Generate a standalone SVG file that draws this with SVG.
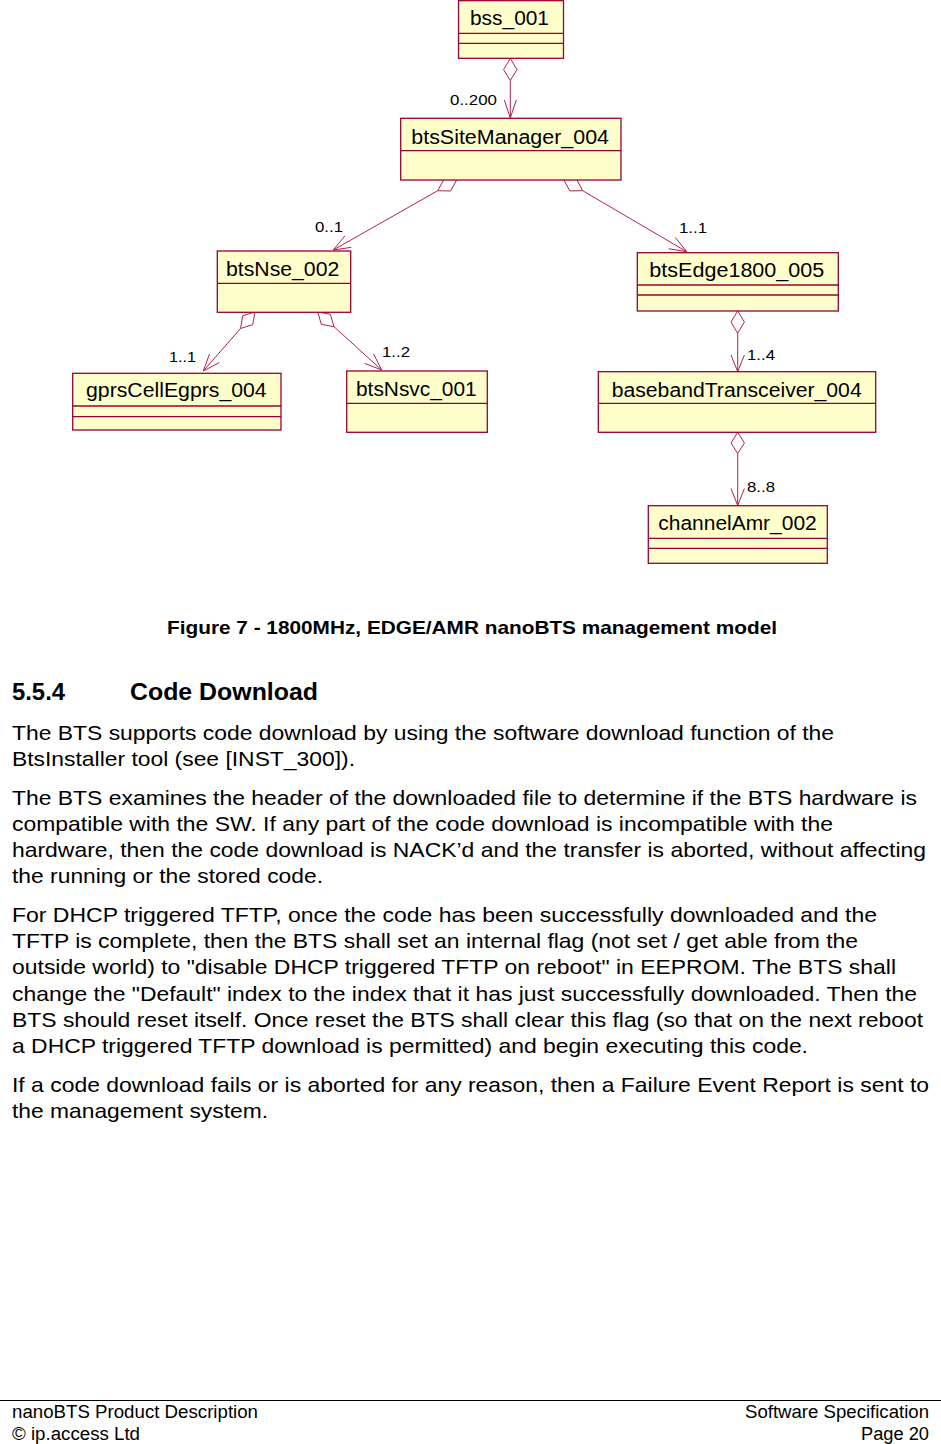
<svg xmlns="http://www.w3.org/2000/svg" width="941" height="1444" viewBox="0 0 941 1444">
<style>
.box{fill:#FFFFCC;stroke:#990033;stroke-width:1.3}
.div{stroke:#990033;stroke-width:1.3;fill:none}
.nl{font-family:"Liberation Sans",Arial,sans-serif;font-size:20px;fill:#000}
.ml{font-family:"Liberation Sans",Arial,sans-serif;font-size:15.5px;fill:#000}
.con line,.con polyline{stroke:#B0204F;stroke-width:1;fill:none}
.con polygon{stroke:#B0204F;stroke-width:1;fill:#fff}
.body{font-family:"Liberation Sans",Arial,sans-serif;font-size:21px;fill:#000}
.cap{font-family:"Liberation Sans",Arial,sans-serif;font-size:18.5px;font-weight:bold;fill:#000}
.hd{font-family:"Liberation Sans",Arial,sans-serif;font-size:23px;font-weight:bold;fill:#000}
.ft{font-family:"Liberation Sans",Arial,sans-serif;font-size:18px;fill:#000}
</style>
<rect width="941" height="1444" fill="#fff"/>
<g id="connectors" class="con">
  <!-- bss -> btsSiteManager -->
  <polygon points="510.3,58.5 517,69.5 510.3,80.5 503.6,69.5"/>
  <line x1="510.3" y1="80.5" x2="510.3" y2="118"/>
  <polyline points="504.3,100 510.3,118 516.3,100"/>
  <!-- btsSiteManager -> btsNse -->
  <polygon points="437.7,190.7 450.6,191 456.8,179.8 444,179.4"/>
  <line x1="437.7" y1="190.7" x2="333.3" y2="250"/>
  <polyline points="351.3,247.3 333.3,250 344.9,235.9"/>
  <!-- btsSiteManager -> btsEdge -->
  <polygon points="582.7,190.7 569.8,190.9 563.7,179.6 576.6,179.3"/>
  <line x1="582.7" y1="190.7" x2="686.7" y2="251.7"/>
  <polyline points="675.3,237.5 686.7,251.7 668.7,248.7"/>
  <!-- btsNse -> gprsCellEgprs -->
  <polygon points="240.5,328.5 252.7,324.6 255,312 242.7,315.8"/>
  <line x1="240.5" y1="328.5" x2="203.3" y2="371"/>
  <polyline points="219.4,362.5 203.3,371 209.6,353.9"/>
  <!-- btsNse -> btsNsvc -->
  <polygon points="334,326.7 330.3,314.3 317.7,311.9 321.3,324.3"/>
  <line x1="334" y1="326.7" x2="381.7" y2="370"/>
  <polyline points="373.5,353.8 381.7,370 364.7,363.4"/>
  <!-- btsEdge -> basebandTransceiver -->
  <polygon points="737.7,311 744.4,322 737.7,333.3 731,322"/>
  <line x1="737.7" y1="333.3" x2="737.7" y2="371.7"/>
  <polyline points="731,355 737.7,371.7 744.4,355"/>
  <!-- basebandTransceiver -> channelAmr -->
  <polygon points="737.7,432.3 744.4,443 737.7,453.5 731,443"/>
  <line x1="737.7" y1="453.5" x2="737.7" y2="505.5"/>
  <polyline points="731,488.5 737.7,505.5 744.4,488.5"/>
  <text class="ml" x="450" y="104.5" textLength="47" lengthAdjust="spacingAndGlyphs">0..200</text>
  <text class="ml" x="315" y="231.5" textLength="28" lengthAdjust="spacingAndGlyphs">0..1</text>
  <text class="ml" x="679" y="233" textLength="28" lengthAdjust="spacingAndGlyphs">1..1</text>
  <text class="ml" x="169" y="361.5" textLength="27" lengthAdjust="spacingAndGlyphs">1..1</text>
  <text class="ml" x="382" y="356.5" textLength="28" lengthAdjust="spacingAndGlyphs">1..2</text>
  <text class="ml" x="747" y="359.5" textLength="28" lengthAdjust="spacingAndGlyphs">1..4</text>
  <text class="ml" x="747" y="492" textLength="28" lengthAdjust="spacingAndGlyphs">8..8</text>
</g>
<g id="bss_001">
  <rect class="box" x="458.5" y="0.7" width="105" height="57.6"/>
  <line class="div" x1="458.5" y1="33.3" x2="563.5" y2="33.3"/>
  <line class="div" x1="458.5" y1="43.3" x2="563.5" y2="43.3"/>
  <text class="nl" x="470" y="25" textLength="79" lengthAdjust="spacingAndGlyphs">bss_001</text>
</g>
<g id="btsSiteManager_004">
  <rect class="box" x="400.7" y="118.3" width="220.3" height="61.7"/>
  <line class="div" x1="400.7" y1="150.7" x2="621" y2="150.7"/>
  <text class="nl" x="411.3" y="144" textLength="197.7" lengthAdjust="spacingAndGlyphs">btsSiteManager_004</text>
</g>
<g id="btsNse_002">
  <rect class="box" x="217.3" y="251" width="133.4" height="61.3"/>
  <line class="div" x1="217.3" y1="283.3" x2="350.7" y2="283.3"/>
  <text class="nl" x="226" y="276" textLength="113.3" lengthAdjust="spacingAndGlyphs">btsNse_002</text>
</g>
<g id="btsEdge1800_005">
  <rect class="box" x="637.3" y="252.7" width="201" height="58.3"/>
  <line class="div" x1="637.3" y1="285" x2="838.3" y2="285"/>
  <line class="div" x1="637.3" y1="295" x2="838.3" y2="295"/>
  <text class="nl" x="649.3" y="277.3" textLength="175" lengthAdjust="spacingAndGlyphs">btsEdge1800_005</text>
</g>
<g id="gprsCellEgprs_004">
  <rect class="box" x="72.7" y="373.3" width="208.3" height="56.7"/>
  <line class="div" x1="72.7" y1="406" x2="281" y2="406"/>
  <line class="div" x1="72.7" y1="416.7" x2="281" y2="416.7"/>
  <text class="nl" x="86" y="396.7" textLength="180.7" lengthAdjust="spacingAndGlyphs">gprsCellEgprs_004</text>
</g>
<g id="btsNsvc_001">
  <rect class="box" x="346.7" y="371" width="140.6" height="61.3"/>
  <line class="div" x1="346.7" y1="403.3" x2="487.3" y2="403.3"/>
  <text class="nl" x="356" y="396" textLength="120.7" lengthAdjust="spacingAndGlyphs">btsNsvc_001</text>
</g>
<g id="basebandTransceiver_004">
  <rect class="box" x="598.3" y="371.7" width="277.4" height="60.6"/>
  <line class="div" x1="598.3" y1="403.3" x2="875.7" y2="403.3"/>
  <text class="nl" x="611.7" y="396.7" textLength="250" lengthAdjust="spacingAndGlyphs">basebandTransceiver_004</text>
</g>
<g id="channelAmr_002">
  <rect class="box" x="648.3" y="505.7" width="179" height="57.6"/>
  <line class="div" x1="648.3" y1="538.3" x2="827.3" y2="538.3"/>
  <line class="div" x1="648.3" y1="548.3" x2="827.3" y2="548.3"/>
  <text class="nl" x="658.3" y="530" textLength="158.4" lengthAdjust="spacingAndGlyphs">channelAmr_002</text>
</g>
<g id="text">
  <text class="cap" x="167" y="633.5" textLength="610" lengthAdjust="spacingAndGlyphs">Figure 7 - 1800MHz, EDGE/AMR nanoBTS management model</text>
  <text class="hd" x="12" y="700" textLength="53" lengthAdjust="spacingAndGlyphs">5.5.4</text>
  <text class="hd" x="130" y="700" textLength="188" lengthAdjust="spacingAndGlyphs">Code Download</text>
  <text class="body" x="12" y="739.5" textLength="822" lengthAdjust="spacingAndGlyphs">The BTS supports code download by using the software download function of the</text>
  <text class="body" x="12" y="765.5" textLength="343" lengthAdjust="spacingAndGlyphs">BtsInstaller tool (see [INST_300]).</text>
  <text class="body" x="12" y="804.5" textLength="905" lengthAdjust="spacingAndGlyphs">The BTS examines the header of the downloaded file to determine if the BTS hardware is</text>
  <text class="body" x="12" y="830.5" textLength="821" lengthAdjust="spacingAndGlyphs">compatible with the SW. If any part of the code download is incompatible with the</text>
  <text class="body" x="12" y="856.5" textLength="914" lengthAdjust="spacingAndGlyphs">hardware, then the code download is NACK’d and the transfer is aborted, without affecting</text>
  <text class="body" x="12" y="883" textLength="311" lengthAdjust="spacingAndGlyphs">the running or the stored code.</text>
  <text class="body" x="12" y="922" textLength="865" lengthAdjust="spacingAndGlyphs">For DHCP triggered TFTP, once the code has been successfully downloaded and the</text>
  <text class="body" x="12" y="948" textLength="846" lengthAdjust="spacingAndGlyphs">TFTP is complete, then the BTS shall set an internal flag (not set / get able from the</text>
  <text class="body" x="12" y="974" textLength="884" lengthAdjust="spacingAndGlyphs">outside world) to "disable DHCP triggered TFTP on reboot" in EEPROM. The BTS shall</text>
  <text class="body" x="12" y="1000.5" textLength="905" lengthAdjust="spacingAndGlyphs">change the "Default" index to the index that it has just successfully downloaded. Then the</text>
  <text class="body" x="12" y="1026.5" textLength="911" lengthAdjust="spacingAndGlyphs">BTS should reset itself. Once reset the BTS shall clear this flag (so that on the next reboot</text>
  <text class="body" x="12" y="1052.5" textLength="796" lengthAdjust="spacingAndGlyphs">a DHCP triggered TFTP download is permitted) and begin executing this code.</text>
  <text class="body" x="12" y="1092" textLength="917" lengthAdjust="spacingAndGlyphs">If a code download fails or is aborted for any reason, then a Failure Event Report is sent to</text>
  <text class="body" x="12" y="1118" textLength="256" lengthAdjust="spacingAndGlyphs">the management system.</text>
</g>
<g id="footer">
  <line x1="0" y1="1400.5" x2="941" y2="1400.5" stroke="#000" stroke-width="1"/>
  <text class="ft" x="12" y="1418" textLength="246" lengthAdjust="spacingAndGlyphs">nanoBTS Product Description</text>
  <text class="ft" x="12" y="1440" textLength="128" lengthAdjust="spacingAndGlyphs">© ip.access Ltd</text>
  <text class="ft" x="745" y="1418" textLength="184" lengthAdjust="spacingAndGlyphs">Software Specification</text>
  <text class="ft" x="861" y="1440" textLength="68" lengthAdjust="spacingAndGlyphs">Page 20</text>
</g>
</svg>
